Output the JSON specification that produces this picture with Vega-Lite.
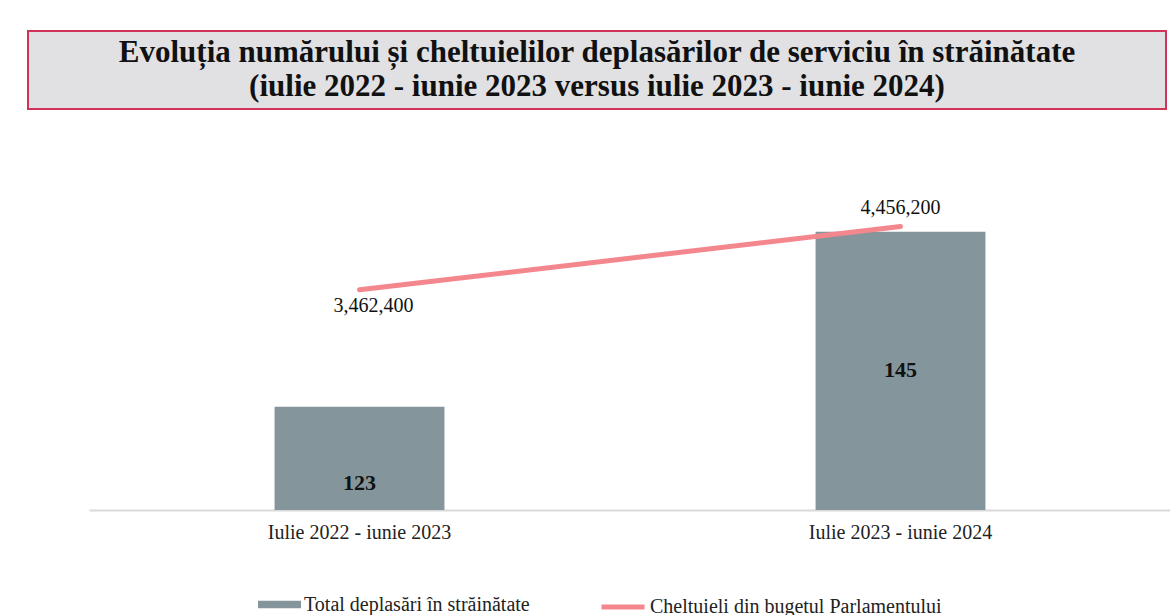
{
  "$schema": "https://vega.github.io/schema/vega-lite/v6.json",
  "padding": {"left": 27, "top": 30, "right": 0, "bottom": 0},
  "autosize": {"type": "pad"},
  "background": "white",
  "spacing": 82,
  "config": {"font": "Liberation Serif", "view": {"stroke": null}},
  "datasets": {
    "main": [
      {"perioada": "Iulie 2022 - iunie 2023", "deplasari": 123, "cheltuieli": 3462400},
      {"perioada": "Iulie 2023 - iunie 2024", "deplasari": 145, "cheltuieli": 4456200}
    ]
  },
  "vconcat": [
    {
      "width": 1138,
      "height": 78,
      "view": {"fill": "#e1e1e3", "stroke": "#d1345b", "strokeWidth": 2},
      "data": {"values": [{"t": "Evoluția numărului și cheltuielilor deplasărilor de serviciu în străinătate\n(iulie 2022 - iunie 2023 versus iulie 2023 - iunie 2024)"}]},
      "mark": {"type": "text", "lineBreak": "\n", "fontSize": 31, "fontWeight": "bold", "lineHeight": 34, "baseline": "middle", "dy": -17, "color": "#111111"},
      "encoding": {"text": {"field": "t", "type": "nominal"}}
    },
    {
      "spacing": 0,
      "hconcat": [
        {
          "width": 61,
          "height": 318,
          "data": {"values": []},
          "mark": {"type": "point", "opacity": 0},
          "encoding": {}
        },
        {
          "width": 1082,
          "height": 318,
          "data": {"name": "main"},
          "encoding": {
            "x": {
              "field": "perioada",
              "type": "nominal",
              "sort": null,
              "scale": {"paddingInner": 0.686, "paddingOuter": 0.343},
              "axis": {"title": null, "labelAngle": 0, "ticks": false, "domainColor": "#d9d9d9", "domainWidth": 2, "labelFontSize": 20, "labelPadding": 12, "labelColor": "#222222", "labelLimit": 400}
            }
          },
          "layer": [
            {
              "encoding": {
                "y": {
                  "field": "deplasari",
                  "type": "quantitative",
                  "scale": {"domain": [110, 150], "zero": false},
                  "axis": null
                }
              },
              "layer": [
                {
                  "mark": {"type": "bar", "clip": true},
                  "encoding": {
                    "fill": {
                      "datum": "Total deplasări în străinătate",
                      "type": "nominal",
                      "scale": {"range": ["#84969b"]},
                      "legend": {"title": null, "orient": "none", "legendX": 230, "legendY": 552, "labelFontSize": 20, "labelColor": "#222222", "labelLimit": 500, "symbolType": "M-1,-0.17H1V0.17H-1Z", "symbolSize": 1849, "symbolStrokeWidth": 0, "labelOffset": 3}
                    }
                  }
                },
                {
                  "transform": [{"filter": "datum.deplasari == 123"}],
                  "mark": {"type": "text", "fontSize": 22, "fontWeight": "bold", "baseline": "middle", "dy": 76, "color": "#111111"},
                  "encoding": {"text": {"field": "deplasari", "type": "quantitative"}}
                },
                {
                  "transform": [{"filter": "datum.deplasari == 145"}],
                  "mark": {"type": "text", "fontSize": 22, "fontWeight": "bold", "baseline": "middle", "dy": 138, "color": "#111111"},
                  "encoding": {"text": {"field": "deplasari", "type": "quantitative"}}
                }
              ]
            },
            {
              "encoding": {
                "y": {
                  "field": "cheltuieli",
                  "type": "quantitative",
                  "scale": {"domain": [0, 5000000]},
                  "axis": null
                }
              },
              "layer": [
                {
                  "mark": {"type": "line", "strokeWidth": 5, "strokeCap": "round"},
                  "encoding": {
                    "stroke": {
                      "datum": "Cheltuieli din bugetul Parlamentului",
                      "type": "nominal",
                      "scale": {"range": ["#f4878d"]},
                      "legend": {"title": null, "orient": "none", "legendX": 571, "legendY": 552, "labelFontSize": 20, "labelColor": "#222222", "labelLimit": 500, "symbolType": "stroke", "symbolSize": 1849, "symbolStrokeWidth": 5, "labelOffset": 3}
                    }
                  }
                },
                {
                  "transform": [{"filter": "datum.deplasari == 123"}],
                  "mark": {"type": "text", "fontSize": 20, "baseline": "middle", "dx": 14, "dy": 16, "color": "#111111"},
                  "encoding": {"text": {"field": "cheltuieli", "type": "quantitative", "format": ",d"}}
                },
                {
                  "transform": [{"filter": "datum.deplasari == 145"}],
                  "mark": {"type": "text", "fontSize": 20, "baseline": "middle", "dy": -19, "color": "#111111"},
                  "encoding": {"text": {"field": "cheltuieli", "type": "quantitative", "format": ",d"}}
                }
              ],
              "resolve": {"scale": {"y": "shared"}}
            }
          ],
          "resolve": {"scale": {"y": "independent"}}
        }
      ]
    }
  ]
}
